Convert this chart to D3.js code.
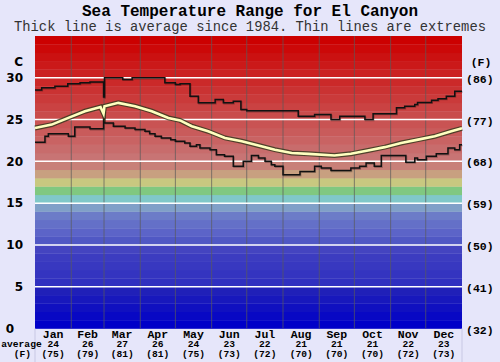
<!DOCTYPE html>
<html><head><meta charset="utf-8">
<script src="https://cdn.jsdelivr.net/npm/d3@7/dist/d3.min.js"></script>
<style>html,body{margin:0;padding:0;background:#e6e6fa;}svg{display:block;}</style>
</head><body><div id="chart"></div>
<script>
const titleText = "Sea Temperature Range for El Canyon";
const subtitleText = "Thick line is average since 1984. Thin lines are extremes";
const months = ["Jan","Feb","Mar","Apr","May","Jun","Jul","Aug","Sep","Oct","Nov","Dec"];
const monthAvgC = [24,26,27,26,24,23,22,21,21,21,22,23];
const monthAvgF = [75,79,81,81,75,73,72,70,70,70,72,73];
const monthStartDays = [0,31,59,90,120,151,181,212,243,273,304,334,365];
const yTicksC = [0,5,10,15,20,25,30];
const yTicksF = ["(32)","(41)","(50)","(59)","(68)","(77)","(86)"];

const maxDays  = [0,5.7,17,28,38.5,47,58.6,59.4,75,83,111,120,124,132.5,139.6,154,161,169.5,176,181,225,239,253,260.5,282,289,309,316,324.6,327,339,344.5,351.6,358.8,365];
const maxTemps = [28.55,28.8,29.0,29.3,29.4,29.5,27.7,30.0,29.8,30.0,29.4,29.2,29.3,27.8,27.0,27.4,27.0,27.2,26.2,26.05,25.4,25.6,25.0,25.4,25.0,25.7,26.4,26.6,26.8,27.05,27.3,27.5,27.8,28.4,28.4];

const minDays  = [0,8.5,11.4,28.5,34,47,58.6,59.4,67,77,85.5,94,98,102.6,108,116,120,128,132.5,138,141,149.6,155,162,169.5,178,185,191,196.6,202,205,212,226.5,239,244.7,253,270,277.5,283,290,296,317,324.6,327,334.5,343,353,358.8,363,365];
const minTemps = [22.3,23.0,23.3,23.0,24.1,23.9,26.0,24.6,24.2,24.0,23.8,23.6,23.3,23.0,22.8,22.6,22.4,22.2,21.8,22.0,21.6,21.4,20.8,20.6,19.4,20.0,20.7,20.4,20.0,19.6,19.4,18.4,18.8,19.4,19.2,18.9,19.2,19.4,19.8,19.4,20.7,19.9,20.4,20.2,20.6,20.9,21.6,21.4,22.0,22.0];

const avgDays  = [0,14.3,28.5,42.7,56,58.6,59.4,71.2,85.5,99.8,114,124,134,148,162.4,176.7,191,205,219.4,233.6,256,270,284.6,299,313,327.4,341.7,355.9,365];
const avgTemps = [24.0,24.4,25.2,26.0,26.5,25.7,26.6,27.0,26.6,26.0,25.2,24.9,24.2,23.6,22.8,22.4,21.9,21.4,21.0,20.9,20.7,20.9,21.3,21.7,22.2,22.6,23.0,23.6,23.95];

const W = 500, H = 362;
const svg = d3.select("#chart").append("svg").attr("width", W).attr("height", H);
svg.append("rect").attr("width", W).attr("height", H).attr("fill", "#e6e6fa");

const x = d3.scaleLinear().domain([0, 365]).range([35, 462]);
const y = d3.scaleLinear().domain([0, 35]).range([328.5, 36]);

// colour bands
const lowColors = ["#0000c8","#0808c4","#1010c0","#1818bc","#2020b8","#3030c0","#3434c0","#3838c0","#3c3cc0","#4444c0",
                   "#5058c4","#5c64c8","#6470c8","#6c7cc8","#80a0c8","#80c8c8","#80c880","#c8c880","#c8a080","#c88078"];
const redInterp = d3.interpolateRgb("#c87474", "#cc0000");
const bandColor = k => k < 20 ? lowColors[k] : redInterp((k - 20) / 14);
svg.append("g").selectAll("rect").data(d3.range(0, 35)).join("rect")
  .attr("x", x(0)).attr("width", x(365) - x(0))
  .attr("y", d => y(d + 1)).attr("height", d => y(d) - y(d + 1) + 0.3)
  .attr("fill", d => bandColor(d));

// month grid lines
svg.append("g").selectAll("line").data(monthStartDays.slice(1, 12)).join("line")
  .attr("x1", d => x(d)).attr("x2", d => x(d)).attr("y1", y(35)).attr("y2", y(0))
  .attr("stroke", "#5a5a5a").attr("stroke-opacity", 0.7).attr("stroke-width", 1);

// horizontal white lines
svg.append("g").selectAll("line").data(yTicksC.slice(1)).join("line")
  .attr("x1", x(0)).attr("x2", x(365)).attr("y1", d => y(d)).attr("y2", d => y(d))
  .attr("stroke", "#ffffff").attr("stroke-width", 1.5);

// lower borders
[0, 365].forEach(d => svg.append("line").attr("x1", x(d)).attr("x2", x(d)).attr("y1", y(0)).attr("y2", H)
  .attr("stroke", "#c8c8e4").attr("stroke-width", 1));

const toPts = (ds, ts) => ds.map((d, i) => [d, ts[i]]);
const stepLine = d3.line().x(d => x(d[0])).y(d => y(d[1])).curve(d3.curveStepAfter);
const smoothLine = d3.line().x(d => x(d[0])).y(d => y(d[1]));

[toPts(maxDays, maxTemps), toPts(minDays, minTemps)].forEach(pts => {
  svg.append("path").attr("d", stepLine(pts)).attr("fill", "none")
    .attr("stroke", "#000").attr("stroke-opacity", 0.25).attr("stroke-width", 1.5)
    .attr("transform", "translate(0.7,0.9)");
  svg.append("path").attr("d", stepLine(pts)).attr("fill", "none")
    .attr("stroke", "#111").attr("stroke-width", 1.5);
});

const avgPts = toPts(avgDays, avgTemps);
svg.append("path").attr("d", smoothLine(avgPts)).attr("fill", "none")
  .attr("stroke", "#3a3a20").attr("stroke-opacity", 0.85).attr("stroke-width", 5);
svg.append("path").attr("d", smoothLine(avgPts)).attr("fill", "none")
  .attr("stroke", "#ffffc0").attr("stroke-width", 2.6);

// titles
svg.append("text").attr("x", 250).attr("y", 15.5).attr("text-anchor", "middle")
  .attr("font-family", "'Liberation Mono', 'Courier New', monospace").attr("font-weight", "bold")
  .attr("font-size", 16).attr("fill", "#000").text(titleText);
svg.append("text").attr("x", 250).attr("y", 31).attr("text-anchor", "middle")
  .attr("font-family", "'Liberation Mono', 'Courier New', monospace")
  .attr("font-size", 13.8).attr("fill", "#333").text(subtitleText);

// left axis
const sans = "'DejaVu Sans', Verdana, sans-serif";
svg.append("g").selectAll("text").data(yTicksC).join("text")
  .attr("x", d => d === 0 ? 14 : 23).attr("y", d => y(d)).attr("dy", "0.36em")
  .attr("text-anchor", "end").attr("font-family", sans).attr("font-weight", "bold")
  .attr("font-size", 12).attr("fill", "#000").text(d => d);
svg.append("text").attr("x", 23).attr("y", 61.5).attr("dy", "0.36em").attr("text-anchor", "end")
  .attr("font-family", sans).attr("font-weight", "bold").attr("font-size", 12).text("C");

// right axis
const mono = "'Liberation Mono', 'Courier New', monospace";
svg.append("g").selectAll("text").data(yTicksF).join("text")
  .attr("x", 466).attr("y", (d, i) => y(yTicksC[i]) + 1).attr("dy", "0.36em")
  .attr("font-family", mono).attr("font-weight", "bold").attr("font-size", 11.5)
  .attr("fill", "#000").text(d => d);
svg.append("text").attr("x", 481).attr("y", 62).attr("dy", "0.36em").attr("text-anchor", "middle")
  .attr("font-family", mono).attr("font-weight", "bold").attr("font-size", 11.5).text("(F)");

// bottom labels
const mid = i => x((monthStartDays[i] + monthStartDays[i + 1]) / 2);
const bottom = svg.append("g").attr("font-family", mono).attr("font-weight", "bold").attr("text-anchor", "middle");
bottom.selectAll("text.m").data(months).join("text").attr("class", "m")
  .attr("x", (d, i) => mid(i)).attr("y", 333.5).attr("dy", "0.36em").attr("font-size", 11.5).text(d => d);
bottom.selectAll("text.c").data(monthAvgC).join("text").attr("class", "c")
  .attr("x", (d, i) => mid(i)).attr("y", 344).attr("dy", "0.36em").attr("font-size", 9.6).text(d => d);
bottom.selectAll("text.f").data(monthAvgF).join("text").attr("class", "f")
  .attr("x", (d, i) => mid(i)).attr("y", 354).attr("dy", "0.36em").attr("font-size", 9.6).text(d => "(" + d + ")");
bottom.append("text").attr("x", 21.5).attr("y", 344).attr("dy", "0.36em").attr("font-size", 9.6).text("average");
bottom.append("text").attr("x", 22.5).attr("y", 354).attr("dy", "0.36em").attr("font-size", 9.6).text("(F)");
</script></body></html>
